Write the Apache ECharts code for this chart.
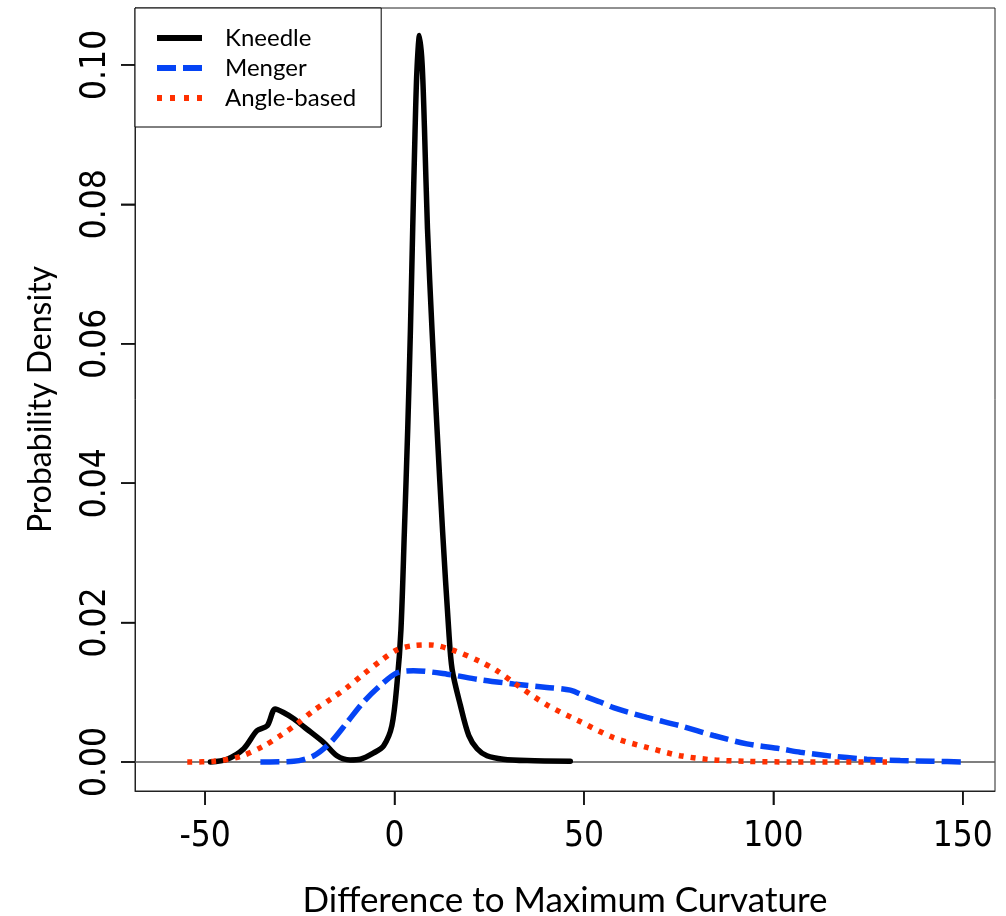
<!DOCTYPE html>
<html>
<head>
<meta charset="utf-8">
<script src="https://cdn.jsdelivr.net/npm/echarts@6/dist/echarts.min.js"></script>
<style>
html,body{margin:0;padding:0;background:#fff;}
#chart{width:1006px;height:916px;}
</style>
</head>
<body>
<div id="chart"></div>
<script>
// ---- data ----
const seriesNames = ['Kneedle', 'Menger', 'Angle-based'];

const kneedleX = [-48.6, -44.2, -39.8, -36.3, -33.6, -31.5, -29.3, -26.6, -23.1, -18.7, -15.2, -11.7, -9.0, -5.5, -2.9, -0.7, 0.7, 1.7, 2.6, 3.5, 4.2, 4.8, 5.4, 5.9, 6.6, 7.3, 7.9, 8.7, 9.9, 11.2, 12.7, 14.3, 15.2, 17.4, 19.6, 21.8, 24.4, 28.7, 35.0, 46.4];
const kneedleY = [0, 0.0004, 0.0019, 0.0045, 0.0052, 0.0076, 0.0071, 0.0062, 0.0047, 0.0028, 0.0009, 0.0003, 0.0004, 0.0013, 0.0023, 0.0052, 0.0115, 0.019, 0.033, 0.048, 0.062, 0.0765, 0.090, 0.099, 0.1042, 0.100, 0.091, 0.0765, 0.062, 0.048, 0.033, 0.019, 0.0133, 0.0081, 0.0038, 0.0019, 0.0009, 0.0004, 0.0002, 0.0001];

const mengerX = [-35.4, -26.6, -21.3, -16.9, -12.5, -8.2, -3.7, 0.7, 5.0, 13.9, 22.6, 31.4, 40.2, 46.4, 50.8, 54.3, 57.8, 66.6, 75.4, 84.2, 93.0, 101.8, 107.1, 115.9, 124.7, 133.5, 142.0, 151.0];
const mengerY = [0, 0.0001, 0.0009, 0.0028, 0.0057, 0.0086, 0.0110, 0.0128, 0.0131, 0.0126, 0.0118, 0.0112, 0.0107, 0.0103, 0.0093, 0.0086, 0.0078, 0.0064, 0.0052, 0.0038, 0.0026, 0.0019, 0.0014, 0.0008, 0.0004, 0.0002, 0.0001, 0];

const angleX = [-54.7, -47.7, -40.7, -34.5, -30.1, -25.7, -21.3, -16.9, -12.5, -8.2, -3.7, 0.7, 5.0, 9.4, 15.6, 22.6, 27.0, 31.4, 40.2, 49.0, 57.8, 66.6, 75.4, 84.2, 93.0, 105.0, 118.0, 130.0];
const angleY = [0, 0.0001, 0.0008, 0.0023, 0.0038, 0.0055, 0.0074, 0.0090, 0.0107, 0.0126, 0.0145, 0.0161, 0.0167, 0.0168, 0.0160, 0.0144, 0.0131, 0.0114, 0.0082, 0.0058, 0.0035, 0.0021, 0.0009, 0.0003, 0.0001, 0, 0, 0];

const xTicks = [-50, 0, 50, 100, 150];
const yTicks = [0, 0.02, 0.04, 0.06, 0.08, 0.10];
const xTitle = 'Difference to Maximum Curvature';
const yTitle = 'Probability Density';

// ---- chart ----
const X_MIN = -68.5, X_MAX = 158.5, Y_MIN = -0.00416, Y_MAX = 0.10816;
const TICK_LEN = 14;
const zip = (xs, ys) => xs.map((x, i) => [x, ys[i]]);
const tickFont = "'Liberation Sans Narrow', 'DejaVu Sans Condensed', Lato, sans-serif";
const textFont = "Lato, 'Open Sans', sans-serif";
const colors = ['#000000', '#0544f5', '#ff3000'];
const legendIcons = [
  'path://M0,0h45v6h-45z',
  'path://M0,0h19v6h-19zM26,0h19v6h-19z',
  'path://M0,0h5v6h-5zM13,0h5v6h-5zM27,0h5v6h-5zM40,0h5v6h-5z'
];

const chart = echarts.init(document.getElementById('chart'), null, {renderer: 'canvas'});
chart.setOption({
  animation: false,
  backgroundColor: '#ffffff',
  grid: {
    left: 135, right: 11, top: 8, height: 783,
    containLabel: false, outerBoundsMode: 'none',
    show: true, borderColor: '#222', borderWidth: 1, backgroundColor: 'transparent'
  },
  legend: {
    data: seriesNames.map((n, i) => ({name: n, icon: legendIcons[i], itemStyle: {color: colors[i], borderWidth: 0}})),
    orient: 'vertical',
    left: 135, top: 8,
    padding: [18, 25, 17, 22],
    itemWidth: 45, itemHeight: 6, itemGap: 6,
    borderColor: '#000', borderWidth: 1, borderRadius: 0,
    backgroundColor: '#fff',
    textStyle: {fontFamily: textFont, fontSize: 24, color: '#000', lineHeight: 24, padding: [0, 0, 0, 18]}
  },
  xAxis: {
    type: 'value', min: X_MIN, max: X_MAX,
    name: xTitle, nameLocation: 'middle', nameGap: 92,
    nameTextStyle: {fontFamily: textFont, fontSize: 35, color: '#000'},
    axisLine: {show: true, onZero: false, lineStyle: {color: '#222', width: 1}},
    splitLine: {show: false},
    axisTick: {show: true, inside: false, length: TICK_LEN, customValues: xTicks, lineStyle: {color: '#111', width: 1.5}},
    axisLabel: {customValues: xTicks, margin: 28, fontFamily: tickFont, fontSize: 35, color: '#000'}
  },
  yAxis: {
    type: 'value', min: Y_MIN, max: Y_MAX,
    name: yTitle, nameLocation: 'middle', nameGap: 78,
    nameTextStyle: {fontFamily: textFont, fontSize: 32, color: '#000'},
    axisLine: {show: true, onZero: false, lineStyle: {color: '#222', width: 1}},
    splitLine: {show: false},
    axisTick: {show: true, inside: false, length: TICK_LEN, customValues: yTicks, lineStyle: {color: '#111', width: 1.5}},
    axisLabel: {customValues: yTicks, rotate: 90, margin: 22, fontFamily: tickFont, fontSize: 35, color: '#000',
      formatter: v => Number(v).toFixed(2)}
  },
  series: [
    {
      name: seriesNames[0], type: 'line', data: zip(kneedleX, kneedleY),
      smooth: 0.3, symbol: 'none', z: 3,
      lineStyle: {color: colors[0], width: 5.5, type: 'solid', cap: 'round', join: 'round'},
      itemStyle: {color: colors[0]},
      markLine: {
        silent: true, symbol: 'none', label: {show: false}, z: 1,
        lineStyle: {color: '#555', width: 1.5, type: 'solid'},
        data: [{yAxis: 0}]
      }
    },
    {
      name: seriesNames[1], type: 'line', data: zip(mengerX, mengerY),
      smooth: 0.3, symbol: 'none', z: 4,
      lineStyle: {color: colors[1], width: 5.5, type: [19, 7], cap: 'butt'},
      itemStyle: {color: colors[1]}
    },
    {
      name: seriesNames[2], type: 'line', data: zip(angleX, angleY),
      smooth: 0.3, symbol: 'none', z: 5,
      lineStyle: {color: colors[2], width: 5.5, type: [5, 7], cap: 'butt'},
      itemStyle: {color: colors[2]}
    }
  ]
});

// outward ticks, positioned through the chart's own axis scales
const tickGraphics = [];
xTicks.forEach(v => {
  const p = chart.convertToPixel({gridIndex: 0}, [v, Y_MIN]);
  if (p) tickGraphics.push({type: 'line', z: 100, silent: true,
    shape: {x1: p[0], y1: p[1], x2: p[0], y2: p[1] + TICK_LEN},
    style: {stroke: '#111', lineWidth: 1.5}});
});
yTicks.forEach(v => {
  const p = chart.convertToPixel({gridIndex: 0}, [X_MIN, v]);
  if (p) tickGraphics.push({type: 'line', z: 100, silent: true,
    shape: {x1: p[0] - TICK_LEN, y1: p[1], x2: p[0], y2: p[1]},
    style: {stroke: '#111', lineWidth: 1.5}});
});
chart.setOption({graphic: {elements: tickGraphics}});
</script>
</body>
</html>
